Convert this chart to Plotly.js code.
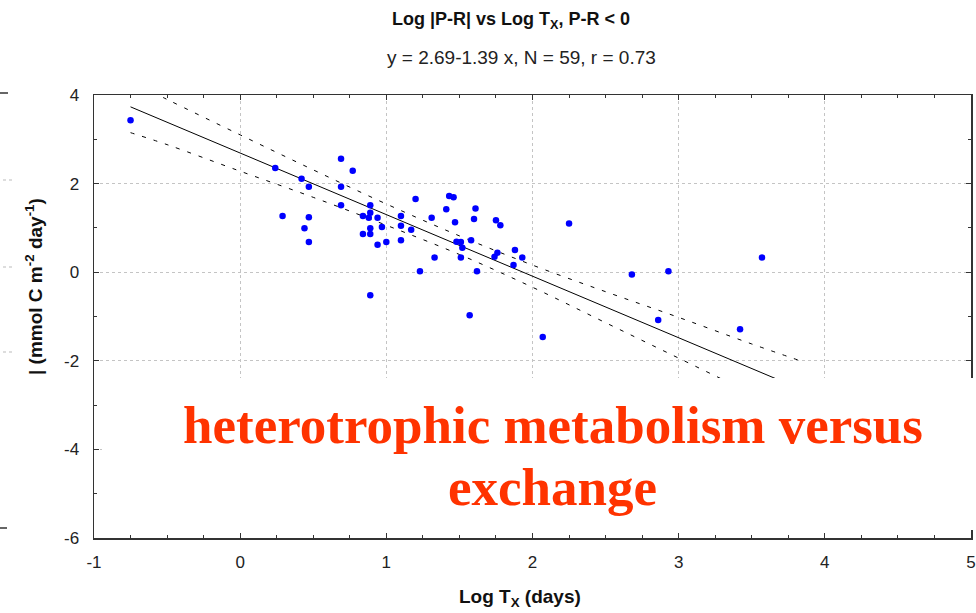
<!DOCTYPE html>
<html>
<head>
<meta charset="utf-8">
<script src="https://cdn.plot.ly/plotly-3.0.1.min.js"></script>
<style>html,body{margin:0;padding:0;background:#fff;}#chart{width:976px;height:613px;}</style>
</head>
<body>
<div id="chart"></div>
<script>
// Observed points: log T_X (days) vs log |P-R|
const logTx = [
  -0.75, 0.24, 0.29, 0.42, 0.47, 0.47, 0.44, 0.47, 0.69, 0.77,
  0.69, 0.69, 0.89, 0.89, 0.84, 0.88, 0.94, 0.89, 0.97, 0.84,
  0.89, 0.94, 1.00, 1.10, 1.10, 1.17, 1.10, 1.20, 1.31, 1.33,
  1.23, 1.41, 1.43, 1.46, 1.47, 1.61, 1.60, 1.58, 1.48, 1.51,
  1.52, 1.51, 1.62, 1.75, 1.78, 1.76, 1.74, 1.88, 1.93, 1.87,
  2.25, 2.68, 2.93, 3.57, 0.89, 1.57, 2.07, 2.86, 3.42
];
const logPR = [
  3.43, 2.35, 1.27, 2.11, 1.93, 1.24, 0.99, 0.68, 2.56, 2.29,
  1.93, 1.51, 1.51, 1.34, 1.27, 1.23, 1.23, 0.99, 1.02, 0.86,
  0.86, 0.62, 0.68, 1.27, 1.05, 0.96, 0.72, 1.65, 1.23, 0.33,
  0.02, 1.42, 1.72, 1.69, 1.13, 1.44, 1.20, 0.72, 0.69, 0.68,
  0.55, 0.33, 0.02, 1.17, 1.06, 0.44, 0.35, 0.50, 0.33, 0.16,
  1.10, -0.05, 0.02, 0.33, -0.52, -0.97, -1.46, -1.08, -1.29
];
// Regression (from subtitle) and the fitted-line x span
const intercept = 2.69;
const slope = -1.39;
const fitRange = [-0.75, 3.85];
// 95% confidence band
const bandX = [-0.75, -0.5, 0, 0.5, 1, 1.5, 2, 2.5, 3, 3.5, 3.85];
const bandUpper = [4.31, 3.90, 3.10, 2.31, 1.54, 0.82, 0.16, -0.44, -1.02, -1.62, -2.02];
const bandLower = [3.15, 2.88, 2.28, 1.69, 1.06, 0.40, -0.34, -1.14, -1.94, -2.74, -3.30];
// Axis ticks
const xTicks = [-1, 0, 1, 2, 3, 4, 5];
const yTicks = [-6, -4, -2, 0, 2, 4];

const fitY = fitRange.map(x => intercept + slope * x);

const sans = "'Liberation Sans', Arial, sans-serif";
const axisCol = '#333333';

const traces = [
  {x: bandX, y: bandUpper, mode: 'lines', type: 'scatter', hoverinfo: 'skip',
   line: {color: '#000', width: 1, dash: '4px,8px', shape: 'spline', smoothing: 1}},
  {x: bandX, y: bandLower, mode: 'lines', type: 'scatter', hoverinfo: 'skip',
   line: {color: '#000', width: 1, dash: '4px,8px', shape: 'spline', smoothing: 1}},
  {x: fitRange, y: fitY, mode: 'lines', type: 'scatter', line: {color: '#000', width: 1}},
  {x: logTx, y: logPR, mode: 'markers', type: 'scatter',
   marker: {color: '#0000ff', size: 6.5, line: {width: 0}}}
];

// pixel -> paper helpers (plot area: left 94, right 971, top 95, bottom 538)
const L = 94, R = 971, T = 95, B = 538;
const px = p => (p - L) / (R - L);
const py = p => (B - p) / (B - T);

const layout = {
  width: 976, height: 613,
  margin: {l: L, r: 976 - R, t: T, b: 613 - B},
  paper_bgcolor: '#fff', plot_bgcolor: '#fff',
  showlegend: false,
  title: {
    text: '<b>Log |P-R| vs Log T<sub>X</sub>, P-R &lt; 0</b>',
    x: 511 / 976, xref: 'container', xanchor: 'center',
    y: 1 - 19 / 613, yref: 'container', yanchor: 'middle',
    font: {family: sans, size: 18, color: '#111'}
  },
  xaxis: {
    range: [-1, 5], tickvals: xTicks, ticktext: xTicks.map(String),
    ticks: 'inside', ticklen: 5, tickwidth: 1, tickcolor: axisCol,
    showline: true, linecolor: axisCol, linewidth: 1.5, mirror: 'ticks',
    showgrid: true, gridcolor: '#c4c4c4', griddash: 'dot', gridwidth: 1,
    zeroline: false,
    minor: {dtick: 0.25, tick0: -1, ticks: 'inside', ticklen: 3, tickcolor: axisCol, showgrid: false},
    tickfont: {family: sans, size: 17, color: '#222'},
    ticklabelstandoff: 8,
    ticklabeloverflow: 'allow'
  },
  yaxis: {
    range: [-6, 4], tickvals: yTicks, ticktext: yTicks.map(String),
    ticks: 'inside', ticklen: 5, tickwidth: 1, tickcolor: axisCol,
    showline: true, linecolor: axisCol, linewidth: 1.5, mirror: 'ticks',
    showgrid: true, gridcolor: '#c4c4c4', griddash: 'dot', gridwidth: 1,
    zeroline: false,
    minor: {dtick: 1, tick0: 0, ticks: 'inside', ticklen: 3, tickcolor: axisCol, showgrid: false},
    tickfont: {family: sans, size: 17, color: '#222'},
    ticklabelstandoff: 10,
    ticklabeloverflow: 'allow'
  },
  shapes: [
    // white overlay box
    {type: 'rect', xref: 'paper', yref: 'paper', x0: px(102), x1: px(980), y0: py(530), y1: py(378),
     fillcolor: '#ffffff', line: {width: 0}, layer: 'above'},
    // stray edge marks at left border
    {type: 'line', xref: 'paper', yref: 'paper', x0: px(0), x1: px(8), y0: py(93), y1: py(93), line: {color: '#333', width: 1.5}},
    {type: 'line', xref: 'paper', yref: 'paper', x0: px(0), x1: px(7), y0: py(528), y1: py(528), line: {color: '#333', width: 1.5}},
    {type: 'line', xref: 'paper', yref: 'paper', x0: px(3), x1: px(14), y0: py(180), y1: py(180), line: {color: '#bbb', width: 1, dash: 'dot'}},
    {type: 'line', xref: 'paper', yref: 'paper', x0: px(3), x1: px(14), y0: py(267), y1: py(267), line: {color: '#bbb', width: 1, dash: 'dot'}},
    {type: 'line', xref: 'paper', yref: 'paper', x0: px(3), x1: px(14), y0: py(352), y1: py(352), line: {color: '#bbb', width: 1, dash: 'dot'}}
  ],
  annotations: [
    {text: 'y = 2.69-1.39 x, N = 59, r = 0.73', xref: 'paper', yref: 'paper',
     x: px(521), y: py(58), xanchor: 'center', yanchor: 'middle', showarrow: false,
     font: {family: sans, size: 19, color: '#222'}},
    {text: '<b>Log T<sub>X</sub> (days)</b>', xref: 'paper', yref: 'paper',
     x: px(520), y: py(598), xanchor: 'center', yanchor: 'middle', showarrow: false,
     font: {family: sans, size: 19, color: '#111'}},
    {text: '<b>| (mmol C m<sup>-2</sup> day<sup>-1</sup>)</b>', xref: 'paper', yref: 'paper',
     x: px(34), y: py(287), xanchor: 'center', yanchor: 'middle', showarrow: false, textangle: -90,
     font: {family: sans, size: 19, color: '#111'}},
    {text: '<b>heterotrophic metabolism versus</b>', xref: 'paper', yref: 'paper',
     x: px(553), y: py(425), xanchor: 'center', yanchor: 'middle', showarrow: false,
     font: {family: "'Liberation Serif', 'Times New Roman', serif", size: 53, color: '#ff3300'}},
    {text: '<b>exchange</b>', xref: 'paper', yref: 'paper',
     x: px(552), y: py(487), xanchor: 'center', yanchor: 'middle', showarrow: false,
     font: {family: "'Liberation Serif', 'Times New Roman', serif", size: 53, color: '#ff3300'}}
  ]
};

Plotly.newPlot('chart', traces, layout, {displayModeBar: false, staticPlot: true});
</script>
</body>
</html>
